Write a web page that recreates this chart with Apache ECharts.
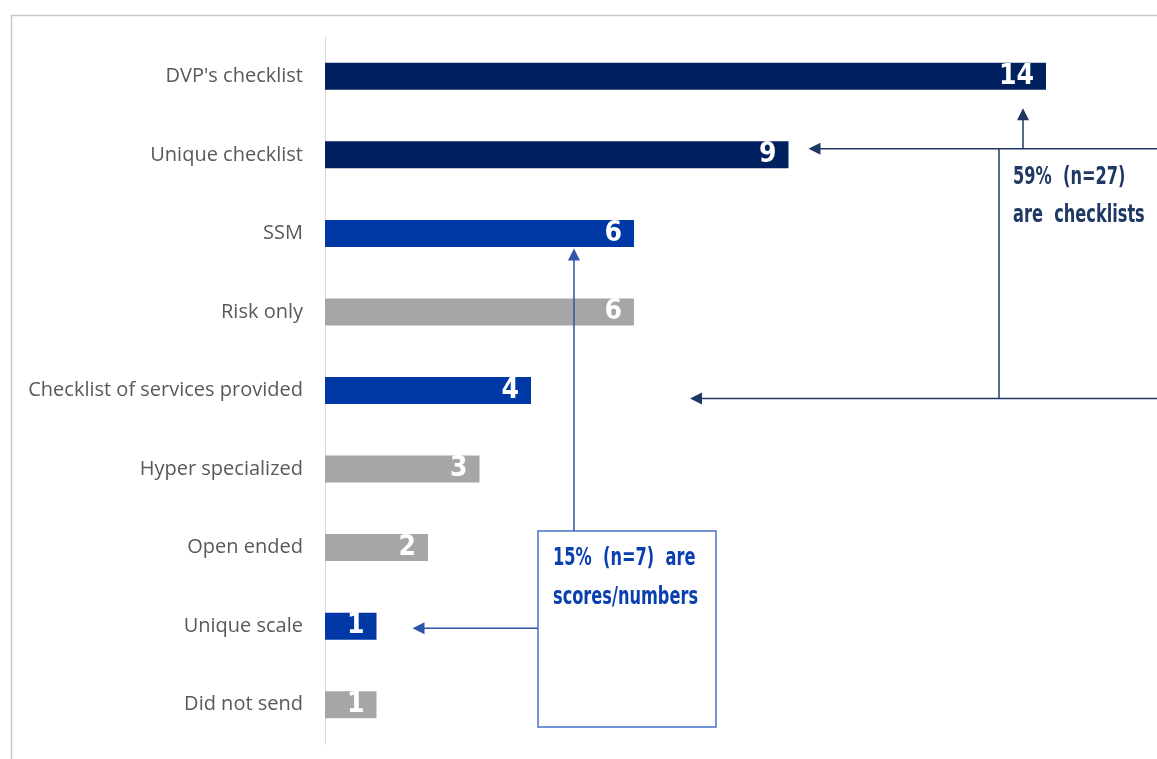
<!DOCTYPE html>
<html>
<head>
<meta charset="utf-8">
<script src="https://cdn.jsdelivr.net/npm/echarts@6/dist/echarts.min.js"></script>
<style>
  html, body { margin: 0; padding: 0; background: #fff; }
  #chart { width: 1157px; height: 759px; }
</style>
</head>
<body>
<div id="chart"></div>
<script>
// categories, top to bottom
const categories = [
  "DVP's checklist",
  "Unique checklist",
  "SSM",
  "Risk only",
  "Checklist of services provided",
  "Hyper specialized",
  "Open ended",
  "Unique scale",
  "Did not send",
];
const counts = [14, 9, 6, 6, 4, 3, 2, 1, 1];
// colour group for each bar
const groups = ["navy", "navy", "blue", "grey", "blue", "grey", "grey", "blue", "grey"];
const groupColors = { navy: "#002060", blue: "#0039A6", grey: "#A6A6A6" };

const narrow = "'DejaVu Sans Condensed', 'Liberation Sans', sans-serif";

const chart = echarts.init(document.getElementById("chart"));

const option = {
  animation: false,
  backgroundColor: "#fff",
  grid: { left: 325, top: 37, height: 707, width: 824 },
  xAxis: {
    type: "value",
    min: 0,
    max: 16,
    show: false,
  },
  yAxis: {
    type: "category",
    inverse: true,
    data: categories,
    axisLine: { show: true, lineStyle: { color: "#d9d9d9", width: 1 } },
    axisTick: { show: false },
    axisLabel: {
      color: "#595959",
      fontSize: 20,
      fontFamily: "Open Sans",
      margin: 22,
    },
  },
  series: [
    {
      type: "bar",
      barWidth: 27,
      data: counts.map((v, i) => ({
        value: v,
        itemStyle: { color: groupColors[groups[i]] },
      })),
      label: {
        show: true,
        position: "insideRight",
        distance: 12,
        color: "#fff",
        fontSize: 28,
        fontWeight: "bold",
        fontFamily: narrow,
      },
    },
  ],
};
chart.setOption(option);

// 注释箭头
const navy = "#1F3864";
const blue = "#2F55A8";
const arrowHead = (x, y, dir, color) => {
  // dir: 'left' or 'up'
  const l = 12, w = 6;
  const pts = dir === "left"
    ? [[x, y], [x + l, y - w], [x + l, y + w]]
    : [[x, y], [x - w, y + l], [x + w, y + l]];
  return { type: "polygon", shape: { points: pts }, style: { fill: color }, z: 10 };
};
const line = (pts, color) => ({
  type: "polyline",
  shape: { points: pts },
  style: { stroke: color, lineWidth: 1.5, fill: null },
  z: 10,
});
const text = (x, y, str, color) => ({
  type: "text",
  x: x,
  y: y,
  scaleX: 0.72,
  style: {
    text: str,
    fill: color,
    font: "bold 25px " + narrow,
    textVerticalAlign: "middle",
  },
  z: 10,
});

const drawNotes = () => {
  const yPix = (i) => chart.convertToPixel({ yAxisIndex: 0 }, categories[i]);
  const xPix = (v) => chart.convertToPixel({ xAxisIndex: 0 }, v);
  const W = 1157;

  const yTop = yPix(1) - 6;
  const yBot = yPix(4) + 8;
  const tip1 = xPix(counts[1]) + 20;
  const tip2 = 690;
  const upX = 1023;
  const upTip = yPix(0) + 32;

  const boxX = 538, boxY = 531, boxW = 178, boxH = 196;
  const vX = 574;
  const vTip = yPix(2) + 15;
  const hY = yPix(7) + 2;
  const hTip = xPix(counts[7]) + 36;

  const elements = [
    // outer frame
    line([[11.5, W], [11.5, 15.5], [W, 15.5]], "#c8c8c8"),
    // checklist group
    line([[W, yTop], [tip1 + 10, yTop]], navy),
    arrowHead(tip1, yTop, "left", navy),
    line([[W, yBot], [tip2 + 10, yBot]], navy),
    arrowHead(tip2, yBot, "left", navy),
    line([[999, yTop], [999, yBot]], navy),
    line([[upX, yTop], [upX, upTip + 10]], navy),
    arrowHead(upX, upTip, "up", navy),
    text(1013, 177, "59%  (n=27)", navy),
    text(1013, 215, "are  checklists", navy),
    // scores group
    {
      type: "rect",
      shape: { x: boxX, y: boxY, width: boxW, height: boxH },
      style: { stroke: "#4472C4", lineWidth: 1.5, fill: "#fff" },
      z: 9,
    },
    line([[vX, boxY], [vX, vTip + 10]], blue),
    arrowHead(vX, vTip, "up", blue),
    line([[boxX, hY], [hTip + 10, hY]], blue),
    arrowHead(hTip, hY, "left", blue),
    text(553, 558, "15%  (n=7)  are", "#0A3FB0"),
    text(553, 597, "scores/numbers", "#0A3FB0"),
  ];
  elements[0].z = 0;
  chart.setOption({ graphic: { elements: elements } });
};
drawNotes();
</script>
</body>
</html>
